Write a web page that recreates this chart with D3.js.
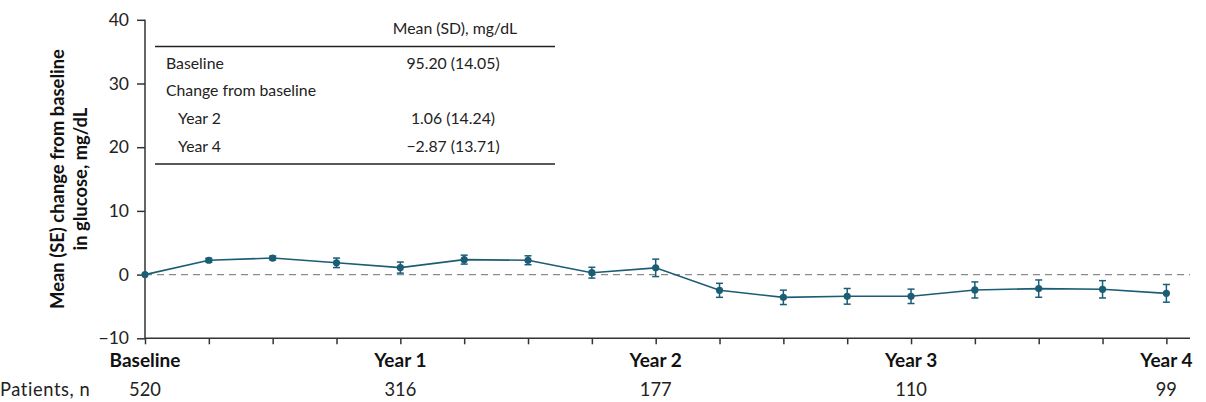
<!DOCTYPE html>
<html><head><meta charset="utf-8">
<script src="https://cdn.jsdelivr.net/npm/d3@7"></script>
<style>body{margin:0;background:#fff}svg{display:block}</style>
</head><body>
<svg id="c" width="1206" height="402"></svg>
<script>
// ---- data ----
const visits = d3.range(17); // 0 = Baseline, then every quarter to Year 4
const meanChange = [0, 2.25, 2.6, 1.85, 1.1, 2.35, 2.25, 0.3, 1.06, -2.47, -3.57, -3.41, -3.41, -2.41, -2.2, -2.31, -2.94];
const seValues = [0, 0.3, 0.3, 0.75, 0.87, 0.7, 0.7, 0.85, 1.37, 1.1, 1.13, 1.23, 1.13, 1.26, 1.36, 1.36, 1.39];
const xTickLabels = {0: "Baseline", 4: "Year 1", 8: "Year 2", 12: "Year 3", 16: "Year 4"};
const patientVisits = [0, 4, 8, 12, 16];
const patientCounts = [520, 316, 177, 110, 99];
const yTicks = [-10, 0, 10, 20, 30, 40];
const tableHeader = "Mean (SD), mg/dL";
const tableLabels = ["Baseline", "Change from baseline", "Year 2", "Year 4"];
const tableIndent = [false, false, true, true];
const tableValues = ["95.20 (14.05)", "", "1.06 (14.24)", "\u22122.87 (13.71)"];

// ---- layout ----
const svg = d3.select("#c");
const font = "Lato, 'Open Sans', sans-serif";
const color = "#1b5d74";
const x = d3.scaleLinear().domain([0, 16.37]).range([145, 1190]);
const y = d3.scaleLinear().domain([-10, 40]).range([338.3, 19.8]);

// reference line at 0
svg.append("line")
  .attr("x1", x(0)).attr("x2", x(16.37))
  .attr("y1", y(0)).attr("y2", y(0))
  .attr("stroke", "#8a8a8a").attr("stroke-width", 1.3)
  .attr("stroke-dasharray", "7,5");

// y axis
const yAxis = svg.append("g").attr("transform", `translate(${x(0)},0)`)
  .call(d3.axisLeft(y).tickValues(yTicks).tickSize(8).tickPadding(8)
    .tickFormat(d => d < 0 ? "\u2212" + Math.abs(d) : d));
yAxis.select(".domain").attr("d", `M0,${y(40)}V${y(-10)}`);
yAxis.selectAll("path,line").attr("stroke", "#333").attr("stroke-width", 1.5);
yAxis.selectAll("text").attr("font-family", font).attr("font-size", 17.5).attr("fill", "#222");

// x axis
const xAxis = svg.append("g").attr("transform", `translate(0,${y(-10)})`)
  .call(d3.axisBottom(x).tickValues(visits).tickSize(6).tickFormat(""));
xAxis.select(".domain").attr("d", `M${x(0)},0H${x(16.37)}`);
xAxis.selectAll("path,line").attr("stroke", "#333").attr("stroke-width", 1.5);

// x tick labels
svg.append("g").selectAll("text").data(visits.filter(v => xTickLabels[v]))
  .join("text")
  .attr("x", d => x(d)).attr("y", 367)
  .attr("text-anchor", "middle")
  .attr("font-family", font).attr("font-weight", "bold").attr("font-size", 19)
  .attr("fill", "#111")
  .text(d => xTickLabels[d]);

// patients row
svg.append("text").attr("x", 0).attr("y", 396)
  .attr("font-family", font).attr("font-size", 18.3).attr("fill", "#222")
  .attr("letter-spacing", 0.6)
  .text("Patients, n");
svg.append("g").selectAll("text").data(patientVisits)
  .join("text")
  .attr("x", d => x(d)).attr("y", 396)
  .attr("text-anchor", "middle")
  .attr("font-family", font).attr("font-size", 18.3).attr("fill", "#222")
  .text((d, i) => patientCounts[i]);

// y axis title
const yt = svg.append("text")
  .attr("transform", `translate(0,${(y(40) + y(-10)) / 2}) rotate(-90)`)
  .attr("text-anchor", "middle")
  .attr("font-family", font).attr("font-weight", "bold").attr("font-size", 18.4)
  .attr("fill", "#111");
yt.append("tspan").attr("x", 0).attr("y", 64).text("Mean (SE) change from baseline");
yt.append("tspan").attr("x", 0).attr("y", 87).text("in glucose, mg/dL");

// line
svg.append("path").datum(visits)
  .attr("fill", "none").attr("stroke", color).attr("stroke-width", 1.6)
  .attr("d", d3.line().x(d => x(d)).y(d => y(meanChange[d])));

// error bars
const eb = svg.append("g").attr("stroke", color).attr("stroke-width", 1.5);
visits.forEach(d => {
  const s = seValues[d];
  if (!s) return;
  const cx = x(d), y1 = y(meanChange[d] + s), y2 = y(meanChange[d] - s);
  eb.append("line").attr("x1", cx).attr("x2", cx).attr("y1", y1).attr("y2", y2);
  eb.append("line").attr("x1", cx - 3.5).attr("x2", cx + 3.5).attr("y1", y1).attr("y2", y1);
  eb.append("line").attr("x1", cx - 3.5).attr("x2", cx + 3.5).attr("y1", y2).attr("y2", y2);
});

// points
svg.append("g").selectAll("circle").data(visits)
  .join("circle")
  .attr("cx", d => x(d)).attr("cy", d => y(meanChange[d]))
  .attr("r", 3.6).attr("fill", color);

// inset table
const tfs = 15.8;
const tb = svg.append("g");
tb.append("text").attr("x", 455).attr("y", 34).attr("text-anchor", "middle")
  .attr("font-family", font).attr("font-size", tfs).attr("fill", "#222").text(tableHeader);
tb.append("line").attr("x1", 155).attr("x2", 555).attr("y1", 46.5).attr("y2", 46.5)
  .attr("stroke", "#222").attr("stroke-width", 1.3);
tb.append("line").attr("x1", 155).attr("x2", 555).attr("y1", 164).attr("y2", 164)
  .attr("stroke", "#222").attr("stroke-width", 1.3);
const rowY = d3.scalePoint().domain(d3.range(tableLabels.length)).range([68.5, 152]);
tb.selectAll("text.lab").data(tableLabels).join("text").attr("class", "lab")
  .attr("x", (d, i) => tableIndent[i] ? 178 : 166).attr("y", (d, i) => rowY(i))
  .attr("font-family", font).attr("font-size", tfs).attr("fill", "#222").text(d => d);
tb.selectAll("text.val").data(tableValues).join("text").attr("class", "val")
  .attr("x", 453).attr("y", (d, i) => rowY(i)).attr("text-anchor", "middle")
  .attr("font-family", font).attr("font-size", tfs).attr("fill", "#222").text(d => d);
</script>
</body></html>
